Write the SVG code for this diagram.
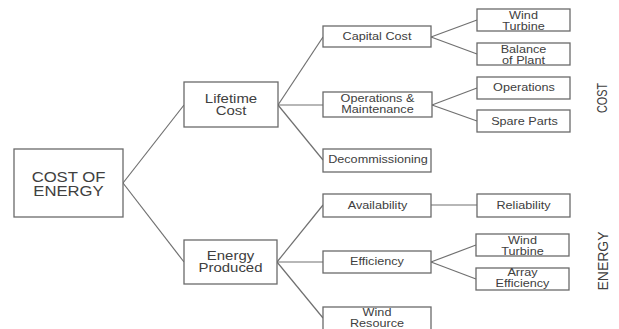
<svg xmlns="http://www.w3.org/2000/svg" width="619" height="329" viewBox="0 0 619 329">
<style>
rect{fill:#fff;stroke:#6a6a6a;stroke-width:1.3}
text{font-family:"Liberation Sans",Arial,sans-serif;fill:#404040;text-anchor:middle;font-size:11px}
.l1{font-size:13px}
.root{font-size:14.5px}
.side{font-size:14px}
#connectors line{stroke:#707070;stroke-width:1.2}
</style>
<rect x="0" y="0" width="619" height="329" style="fill:#fff;stroke:none"/>
<g id="connectors">
<line x1="123" y1="183" x2="184" y2="105"/>
<line x1="123" y1="183" x2="184" y2="262"/>
<line x1="278" y1="105" x2="323" y2="37"/>
<line x1="278" y1="105" x2="323" y2="105"/>
<line x1="278" y1="105" x2="323" y2="160"/>
<line x1="431" y1="37" x2="477" y2="20"/>
<line x1="431" y1="37" x2="477" y2="54"/>
<line x1="432" y1="105" x2="477" y2="88"/>
<line x1="432" y1="105" x2="477" y2="121"/>
<line x1="277" y1="262" x2="323" y2="205"/>
<line x1="277" y1="262" x2="323" y2="262"/>
<line x1="277" y1="262" x2="323" y2="318"/>
<line x1="431" y1="205" x2="477" y2="205"/>
<line x1="431" y1="262" x2="476" y2="245"/>
<line x1="431" y1="262" x2="476" y2="279"/>
</g>
<g id="cost-of-energy"><rect x="14" y="149" width="109" height="68"/><text class="root" transform="translate(68.5,0) scale(1.15,1)"><tspan x="0" y="182">COST OF</tspan><tspan x="0" y="196">ENERGY</tspan></text></g>
<g id="lifetime-cost"><rect x="184" y="82" width="94" height="45"/><text class="l1" transform="translate(231,0) scale(1.15,1)"><tspan x="0" y="103">Lifetime</tspan><tspan x="0" y="115.5">Cost</tspan></text></g>
<g id="energy-produced"><rect x="184" y="240" width="93" height="44"/><text class="l1" transform="translate(230.5,0) scale(1.15,1)"><tspan x="0" y="260">Energy</tspan><tspan x="0" y="272.5">Produced</tspan></text></g>
<g id="capital-cost"><rect x="323" y="26" width="108" height="21"/><text transform="translate(377,0) scale(1.15,1)" x="0" y="40.5">Capital Cost</text></g>
<g id="om"><rect x="323" y="92" width="109" height="25"/><text transform="translate(377.5,0) scale(1.15,1)"><tspan x="0" y="102">Operations &amp;</tspan><tspan x="0" y="113">Maintenance</tspan></text></g>
<g id="decommissioning"><rect x="323" y="149" width="108" height="23"/><text transform="translate(378,0) scale(1.15,1)" x="0" y="163.5">Decommissioning</text></g>
<g id="availability"><rect x="323" y="194" width="108" height="23"/><text transform="translate(377.5,0) scale(1.15,1)" x="0" y="209">Availability</text></g>
<g id="efficiency"><rect x="323" y="251" width="108" height="22"/><text transform="translate(377,0) scale(1.15,1)" x="0" y="265">Efficiency</text></g>
<g id="wind-resource"><rect x="323" y="307" width="108" height="26"/><text transform="translate(377,0) scale(1.15,1)"><tspan x="0" y="316">Wind</tspan><tspan x="0" y="327">Resource</tspan></text></g>
<g id="wind-turbine-1"><rect x="477" y="9" width="93" height="22"/><text transform="translate(523.5,0) scale(1.15,1)"><tspan x="0" y="19">Wind</tspan><tspan x="0" y="30">Turbine</tspan></text></g>
<g id="balance-of-plant"><rect x="477" y="43" width="93" height="22"/><text transform="translate(523.5,0) scale(1.15,1)"><tspan x="0" y="53">Balance</tspan><tspan x="0" y="64">of Plant</tspan></text></g>
<g id="operations"><rect x="477" y="77" width="93" height="22"/><text transform="translate(524,0) scale(1.15,1)" x="0" y="91.5">Operations</text></g>
<g id="spare-parts"><rect x="477" y="110" width="93" height="22"/><text transform="translate(524.5,0) scale(1.15,1)" x="0" y="125.5">Spare Parts</text></g>
<g id="reliability"><rect x="477" y="194" width="93" height="23"/><text transform="translate(523.5,0) scale(1.15,1)" x="0" y="209">Reliability</text></g>
<g id="wind-turbine-2"><rect x="476" y="234" width="93" height="22"/><text transform="translate(522.5,0) scale(1.15,1)"><tspan x="0" y="244">Wind</tspan><tspan x="0" y="255">Turbine</tspan></text></g>
<g id="array-efficiency"><rect x="476" y="268" width="93" height="22"/><text transform="translate(522.5,0) scale(1.15,1)"><tspan x="0" y="276.5">Array</tspan><tspan x="0" y="287.5">Efficiency</tspan></text></g>
<g id="labels">
<text class="side" transform="translate(607,98) rotate(-90)" textLength="30" lengthAdjust="spacingAndGlyphs">COST</text>
<text class="side" transform="translate(608,261) rotate(-90)">ENERGY</text>
</g>
</svg>
